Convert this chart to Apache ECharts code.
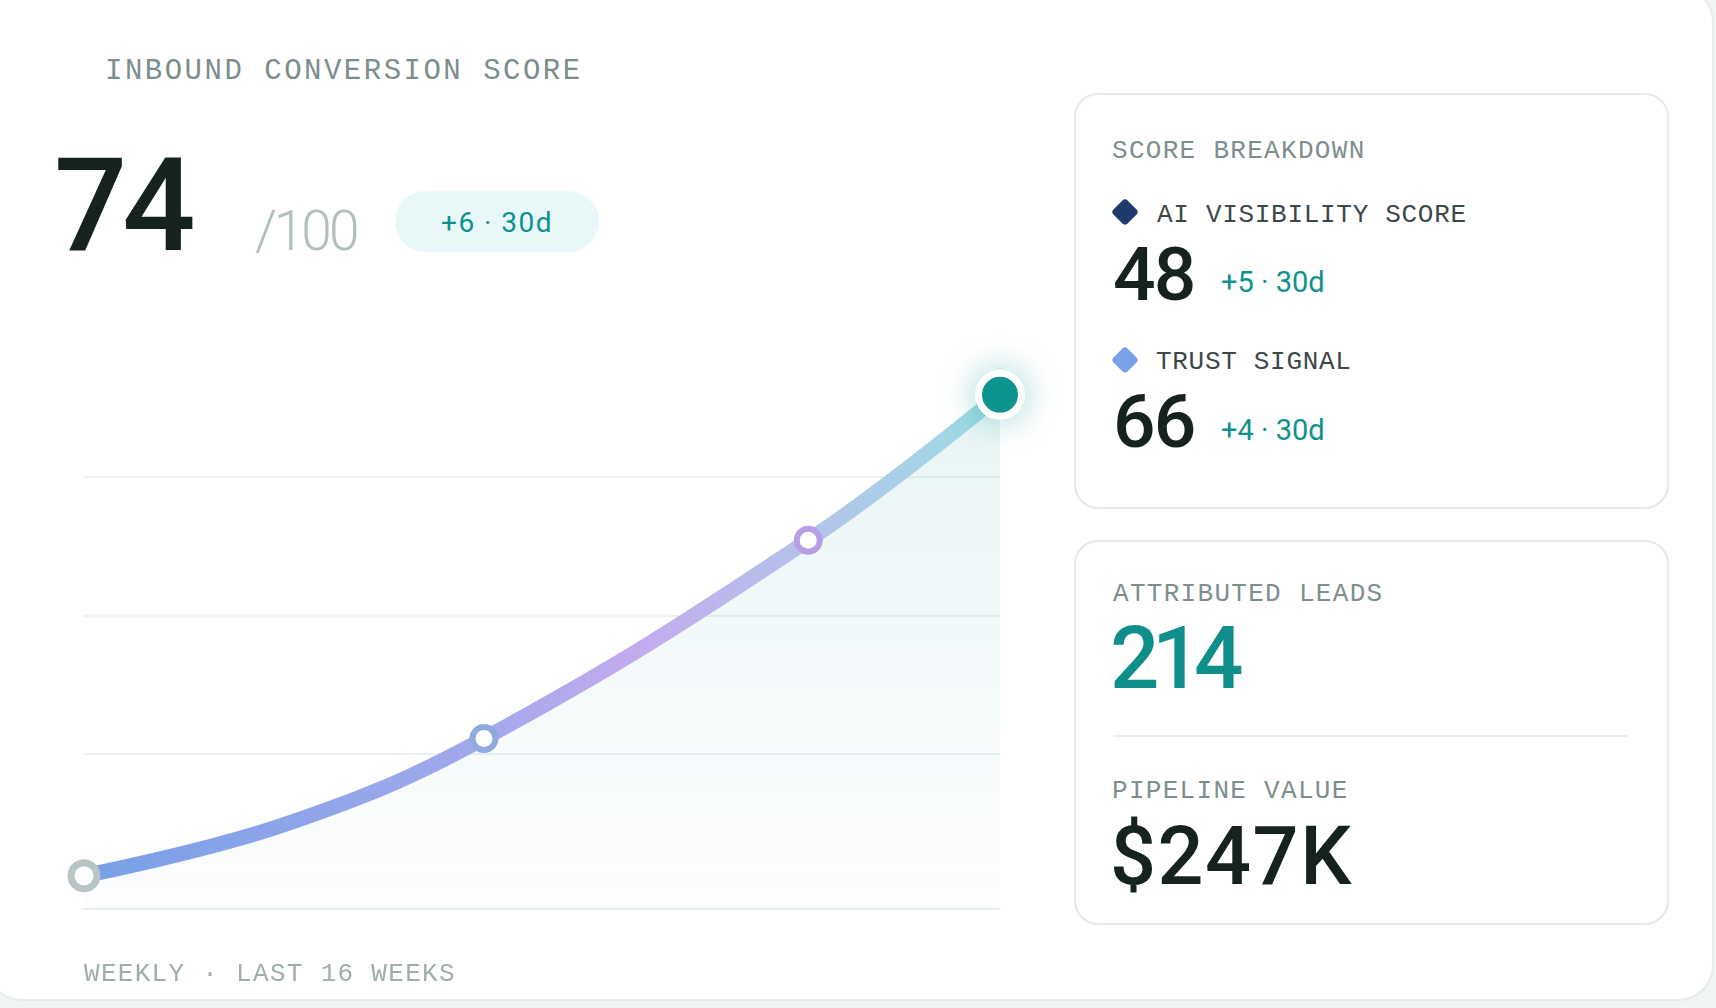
<!DOCTYPE html>
<html>
<head>
<meta charset="utf-8">
<title>Inbound conversion score</title>
<script src="https://cdn.jsdelivr.net/npm/echarts@6/dist/echarts.min.js"></script>
<style>
  html, body { margin: 0; width: 1716px; height: 1008px; overflow: hidden; background: #f2f5f5; }
  .frame { position: absolute; left: -14px; top: -14px; width: 1728px; height: 1015px; box-sizing: border-box;
           background: #fff; border: 2px solid #e6ebeb; border-radius: 36px; }
  .t { position: absolute; white-space: nowrap; line-height: 1; }
  .mono { font-family: "Liberation Mono", "DejaVu Sans Mono", monospace; }
  .num { font-family: Roboto, "Noto Sans", sans-serif; }
  .card { position: absolute; box-sizing: border-box; background: #fff; border: 2px solid #e4eaea; border-radius: 24px; }
  .dia { position: absolute; width: 20px; height: 20px; border-radius: 4px; transform: rotate(45deg); }
  #chart { position: absolute; left: 0; top: 0; width: 1060px; height: 1008px; }
</style>
</head>
<body>
<div class="frame"></div>

<div class="t mono" style="left:105px;top:57px;font-size:29px;letter-spacing:2.5px;color:#7b8d8c;">INBOUND CONVERSION SCORE</div>

<div class="t num" style="left:54px;top:141px;font-size:129px;font-weight:500;letter-spacing:-5px;color:#15221e;">74</div>
<div class="t num" style="left:255px;top:204px;font-size:55px;font-weight:300;letter-spacing:-3px;color:#b3bfbe;">/100</div>
<div style="position:absolute;left:395px;top:191px;width:204px;height:61px;border-radius:31px;background:#e8f7f7;"></div>
<div class="t num" style="left:441px;top:209px;font-size:28px;font-weight:400;letter-spacing:1.5px;color:#0f918d;">+6 · 30d</div>

<div id="chart"></div>

<div class="t mono" style="left:84px;top:961px;font-size:26px;letter-spacing:1.3px;color:#9fadab;">WEEKLY · LAST 16 WEEKS</div>

<div class="card" style="left:1074px;top:93px;width:595px;height:416px;"></div>
<div class="t mono" style="left:1112px;top:138px;font-size:26px;letter-spacing:1.3px;color:#7d8e8e;">SCORE BREAKDOWN</div>
<div class="dia" style="left:1115px;top:202px;background:#1e3a6c;"></div>
<div class="t mono" style="left:1157px;top:202px;font-size:26px;letter-spacing:0.7px;color:#3c4848;">AI VISIBILITY SCORE</div>
<div class="t num" style="left:1113px;top:237px;font-size:75px;font-weight:500;letter-spacing:-2px;color:#15221e;">48</div>
<div class="t num" style="left:1221px;top:268px;font-size:29px;font-weight:400;color:#0f918d;">+5 · 30d</div>
<div class="dia" style="left:1115px;top:350px;background:#7aa2e8;"></div>
<div class="t mono" style="left:1156px;top:349px;font-size:26px;letter-spacing:0.7px;color:#3c4848;">TRUST SIGNAL</div>
<div class="t num" style="left:1113px;top:384px;font-size:75px;font-weight:500;letter-spacing:-2px;color:#15221e;">66</div>
<div class="t num" style="left:1221px;top:416px;font-size:29px;font-weight:400;color:#0f918d;">+4 · 30d</div>

<div class="card" style="left:1074px;top:540px;width:595px;height:385px;"></div>
<div class="t mono" style="left:1113px;top:581px;font-size:26px;letter-spacing:1.3px;color:#7d8e8e;">ATTRIBUTED LEADS</div>
<div class="t num" style="left:1110px;top:615px;font-size:87px;font-weight:500;letter-spacing:-7.5px;color:#0f8f8b;">214</div>
<div style="position:absolute;left:1114px;top:735px;width:514px;height:2px;background:#e6ebeb;"></div>
<div class="t mono" style="left:1112px;top:778px;font-size:26px;letter-spacing:1.3px;color:#7d8e8e;">PIPELINE VALUE</div>
<div class="t num" style="left:1110px;top:816px;font-size:81px;font-weight:500;letter-spacing:1.5px;color:#15221e;">$247K</div>

<script type="text/javascript">
    // score along the 16 weeks (x = week index, 0..15)
    var weeks = [0, 3.29, 6.55, 11.86, 15];
    var score = [41.2, 44.9, 51.1, 65.4, 75.9];

    // marker look for each point (size 0 = no marker)
    var markerSize    = [26, 0, 23, 23, 43];
    var markerFill    = ['#ffffff', null, '#ffffff', '#ffffff', '#0e948f'];
    var markerBorder  = ['#b9c5c5', null, '#8eaadf', '#b99ee5', '#ffffff'];
    var markerBorderW = [7, 0, 6, 6, 7];

    var myChart = echarts.init(document.getElementById('chart'), null, { renderer: 'canvas' });

    var points = weeks.map(function (w, i) {
        if (!markerSize[i]) {
            return { value: [w, score[i]], symbol: 'none' };
        }
        var it = { color: markerFill[i], borderColor: markerBorder[i], borderWidth: markerBorderW[i] };
        if (i === weeks.length - 1) {
            it.shadowBlur = 34;
            it.shadowColor = 'rgba(14,148,143,0.35)';
        }
        return { value: [w, score[i]], symbol: 'circle', symbolSize: markerSize[i], itemStyle: it };
    });

    var option = {
        animation: false,
        grid: [
            { left: 84, right: 60, top: 338, bottom: 99 },
            { left: 84, right: 60, top: 477, bottom: 254 }
        ],
        xAxis: [
            {
                type: 'value', gridIndex: 0, min: 0, max: 15,
                axisLine: { show: true, onZero: false, lineStyle: { color: '#e8eded', width: 2 } },
                axisTick: { show: false }, axisLabel: { show: false }, splitLine: { show: false }
            },
            { type: 'value', gridIndex: 1, min: 0, max: 15, show: false }
        ],
        yAxis: [
            { type: 'value', gridIndex: 0, min: 38.8, max: 80, show: false },
            {
                type: 'value', gridIndex: 1, min: 0, max: 2, interval: 1,
                axisLine: { show: false }, axisTick: { show: false }, axisLabel: { show: false },
                splitLine: { show: true, lineStyle: { color: '#edf1f1', width: 2 } }
            }
        ],
        series: [
            {
                type: 'line',
                xAxisIndex: 0, yAxisIndex: 0,
                data: points,
                smooth: 0.4,
                clip: false,
                silent: true,
                showSymbol: true,
                showAllSymbol: true,
                z: 3,
                emphasis: { disabled: true },
                lineStyle: {
                    width: 15,
                    cap: 'round',
                    color: new echarts.graphic.LinearGradient(0, 0, 1, 0, [
                        { offset: 0, color: '#76a0e6' },
                        { offset: 0.44, color: '#a3a8ec' },
                        { offset: 0.6, color: '#c4abee' },
                        { offset: 0.79, color: '#b3c3ea' },
                        { offset: 1, color: '#9adfe3' }
                    ])
                },
                areaStyle: {
                    color: new echarts.graphic.LinearGradient(0, 0, 0, 1, [
                        { offset: 0, color: 'rgba(30,155,155,0.15)' },
                        { offset: 0.6, color: 'rgba(60,160,175,0.07)' },
                        { offset: 1, color: 'rgba(110,150,215,0.02)' }
                    ])
                }
            }
        ]
    };

    myChart.setOption(option);
</script>
</body>
</html>
